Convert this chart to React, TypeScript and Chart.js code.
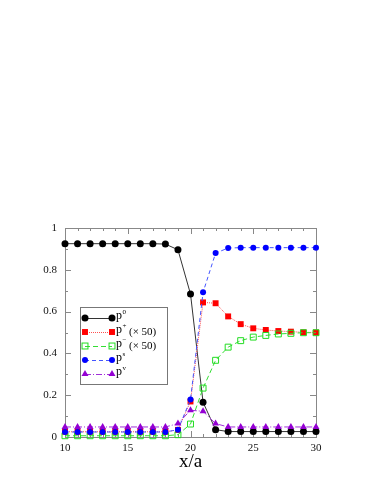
import React, { useEffect, useRef } from 'react';
import { Chart, registerables } from 'chart.js';

Chart.register(...registerables);

const xValues = [10, 11, 12, 13, 14, 15, 16, 17, 18, 19, 20, 21, 22, 23, 24, 25, 26, 27, 28, 29, 30];
const p0 = [0.925, 0.925, 0.925, 0.925, 0.925, 0.925, 0.925, 0.925, 0.923, 0.896, 0.684, 0.166, 0.035, 0.026, 0.026, 0.026, 0.026, 0.026, 0.026, 0.026, 0.026];
const pPlus = [0.025, 0.025, 0.025, 0.025, 0.025, 0.025, 0.025, 0.025, 0.025, 0.034, 0.170, 0.644, 0.640, 0.577, 0.540, 0.520, 0.512, 0.507, 0.504, 0.501, 0.500];
const pMinus = [0.006, 0.006, 0.006, 0.006, 0.006, 0.006, 0.006, 0.006, 0.006, 0.011, 0.062, 0.234, 0.367, 0.430, 0.461, 0.478, 0.486, 0.493, 0.496, 0.499, 0.499];
const pS = [0.024, 0.024, 0.024, 0.024, 0.024, 0.024, 0.024, 0.024, 0.024, 0.035, 0.179, 0.692, 0.880, 0.904, 0.906, 0.906, 0.906, 0.906, 0.906, 0.906, 0.906];
const pV = [0.048, 0.048, 0.048, 0.048, 0.048, 0.048, 0.048, 0.048, 0.048, 0.064, 0.128, 0.123, 0.064, 0.048, 0.048, 0.048, 0.048, 0.048, 0.048, 0.048, 0.048];

const legendLabels = [
  { base: 'p', sup: '0', extra: '' },
  { base: 'p', sup: '+', extra: '(\u00d7 50)' },
  { base: 'p', sup: '\u2212', extra: '(\u00d7 50)' },
  { base: 'p', sup: 's', extra: '' },
  { base: 'p', sup: 'v', extra: '' },
];
const xTitle = 'x/a';

const SERIF = '"Liberation Serif", "DejaVu Serif", serif';

type SeriesStyle = {
  color: string;
  lineColor: string;
  dash: number[];
  point: 'circle' | 'rect' | 'rectOpen' | 'triangle';
  radius: number;
};

const styles: SeriesStyle[] = [
  { color: '#000000', lineColor: '#333333', dash: [], point: 'circle', radius: 3.5 },
  { color: '#ff0000', lineColor: '#ff5050', dash: [1, 1], point: 'rect', radius: 4.2 },
  { color: '#22dd22', lineColor: '#33dd33', dash: [5, 3], point: 'rectOpen', radius: 4.2 },
  { color: '#0000ff', lineColor: '#4455ff', dash: [4, 3], point: 'circle', radius: 3 },
  { color: '#9400d3', lineColor: '#a030d8', dash: [6, 2, 1, 2], point: 'triangle', radius: 4 },
];

function drawMarker(ctx: CanvasRenderingContext2D, s: SeriesStyle, x: number, y: number) {
  ctx.save();
  ctx.setLineDash([]);
  ctx.fillStyle = s.color;
  ctx.strokeStyle = s.color;
  ctx.lineWidth = 1;
  if (s.point === 'circle') {
    ctx.beginPath();
    ctx.arc(x, y, s.radius, 0, Math.PI * 2);
    ctx.fill();
  } else if (s.point === 'rect' || s.point === 'rectOpen') {
    const h = s.radius * Math.SQRT1_2;
    if (s.point === 'rect') ctx.fillRect(x - h, y - h, 2 * h, 2 * h);
    else ctx.strokeRect(x - h, y - h, 2 * h, 2 * h);
  } else {
    const r = s.radius;
    ctx.beginPath();
    ctx.moveTo(x, y - r);
    ctx.lineTo(x + r * 0.87, y + r * 0.5);
    ctx.lineTo(x - r * 0.87, y + r * 0.5);
    ctx.closePath();
    ctx.fill();
  }
  ctx.restore();
}

const framePlugin = {
  id: 'frameTicks',
  beforeDatasetsDraw(chart: any) {
    const { ctx, chartArea: a, scales } = chart;
    ctx.save();
    ctx.strokeStyle = '#888888';
    ctx.lineWidth = 1;
    ctx.strokeRect(Math.round(a.left) + 0.5, Math.round(a.top) + 0.5, Math.round(a.right - a.left), Math.round(a.bottom - a.top));
    ctx.beginPath();
    for (let v = 10; v <= 30; v += 1) {
      const px = Math.round(scales.x.getPixelForValue(v)) + 0.5;
      const len = v % 5 === 0 ? 6 : 3;
      ctx.moveTo(px, a.bottom);
      ctx.lineTo(px, a.bottom - len);
      ctx.moveTo(px, a.top);
      ctx.lineTo(px, a.top + len);
    }
    for (let i = 0; i <= 10; i++) {
      const py = Math.round(scales.y.getPixelForValue(i / 10)) + 0.5;
      const len = i % 2 === 0 ? 6 : 3;
      ctx.moveTo(a.left, py);
      ctx.lineTo(a.left + len, py);
      ctx.moveTo(a.right, py);
      ctx.lineTo(a.right - len, py);
    }
    ctx.stroke();
    ctx.restore();
  },
  afterDraw(chart: any) {
    const { ctx, chartArea: a } = chart;
    ctx.save();
    // x title
    ctx.fillStyle = '#000';
    ctx.font = `19px ${SERIF}`;
    ctx.textAlign = 'center';
    ctx.textBaseline = 'alphabetic';
    ctx.fillText(xTitle, (a.left + a.right) / 2, 467);

    // legend
    const bx = 80.5, by = 307.5, bw = 87, bh = 77;
    ctx.fillStyle = '#ffffff';
    ctx.fillRect(bx, by, bw, bh);
    ctx.strokeStyle = '#777777';
    ctx.lineWidth = 1;
    ctx.strokeRect(bx, by, bw, bh);
    const rows = [318, 332, 346, 360, 374];
    legendLabels.forEach((lab, i) => {
      const s = styles[i];
      const y = rows[i];
      ctx.save();
      ctx.strokeStyle = s.lineColor;
      ctx.lineWidth = 1;
      ctx.setLineDash(s.dash);
      ctx.beginPath();
      ctx.moveTo(85, y + 0.5);
      ctx.lineTo(112, y + 0.5);
      ctx.stroke();
      ctx.restore();
      drawMarker(ctx, s, 85, y);
      drawMarker(ctx, s, 112, y);
      ctx.fillStyle = '#000';
      ctx.textAlign = 'left';
      ctx.textBaseline = 'alphabetic';
      ctx.font = `12px ${SERIF}`;
      ctx.fillText(lab.base, 116, y + 1);
      ctx.font = `7px ${SERIF}`;
      ctx.fillText(lab.sup, 122.5, y - 4);
      if (lab.extra) {
        ctx.font = `11px ${SERIF}`;
        ctx.fillText(lab.extra, 129, y + 3);
      }
    });
    ctx.restore();
  },
};

export default function App() {
  const ref = useRef<HTMLCanvasElement | null>(null);
  useEffect(() => {
    if (!ref.current) return;
    const series = [p0, pPlus, pMinus, pS, pV];
    const datasets = series.map((vals, i) => {
      const s = styles[i];
      return {
        label: legendLabels[i].base + legendLabels[i].sup,
        data: xValues.map((x, j) => ({ x, y: vals[j] })),
        borderColor: s.lineColor,
        borderWidth: 1,
        borderDash: s.dash,
        backgroundColor: s.point === 'rectOpen' ? 'rgba(255,255,255,0)' : s.color,
        pointBorderColor: s.color,
        pointBackgroundColor: s.point === 'rectOpen' ? 'rgba(255,255,255,0)' : s.color,
        pointBorderWidth: s.point === 'rectOpen' ? 1 : 0,
        pointStyle: s.point === 'rectOpen' ? 'rect' : s.point,
        pointRadius: s.radius,
        tension: 0,
        fill: false,
        clip: false as any,
        order: 4 - i,
      };
    });
    const chart = new Chart(ref.current, {
      type: 'line',
      data: { datasets },
      options: {
        animation: false,
        responsive: false,
        devicePixelRatio: 1,
        layout: { padding: { top: 228, right: 66, left: 30, bottom: 12 } },
        plugins: { legend: { display: false }, tooltip: { enabled: false } },
        scales: {
          x: {
            type: 'linear',
            min: 10,
            max: 30,
            grid: { display: false, drawTicks: false },
            border: { display: false },
            ticks: { stepSize: 5, padding: 5, color: '#111', font: { family: SERIF, size: 11 }, maxRotation: 0 },
            afterFit: (scale: any) => { scale.height = 45; },
          },
          y: {
            type: 'linear',
            min: 0,
            max: 1,
            grid: { display: false, drawTicks: false },
            border: { display: false },
            ticks: {
              stepSize: 0.2,
              padding: 8,
              color: '#111',
              font: { family: SERIF, size: 11 },
              callback: (v: any) => String(Math.round(Number(v) * 10) / 10),
            },
            afterFit: (scale: any) => { scale.width = 35; },
          },
        },
      } as any,
      plugins: [framePlugin],
    });
    return () => chart.destroy();
  }, []);
  return (
    <div style={{ position: 'absolute', left: 0, top: 0, width: 382, height: 494, background: '#fff' }}>
      <canvas ref={ref} width={382} height={494} style={{ display: 'block', width: 382, height: 494 }} />
    </div>
  );
}
